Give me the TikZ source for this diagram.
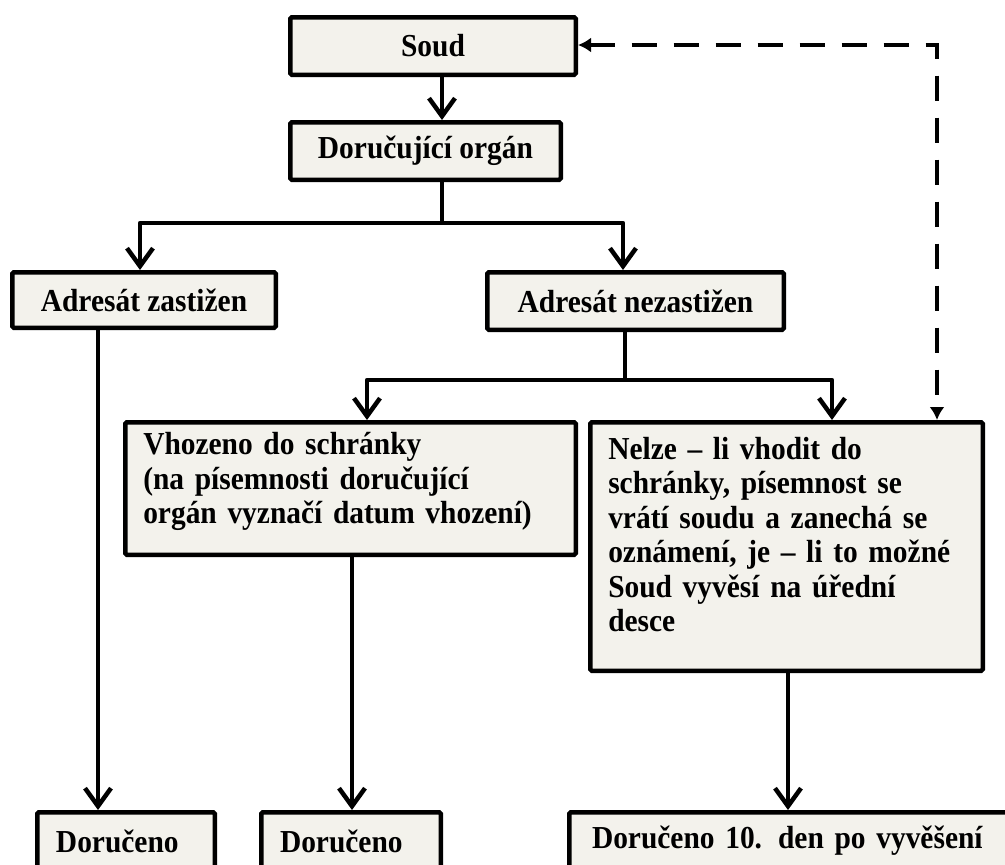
\documentclass[tikz,border=0pt]{standalone}
\usepackage{fontspec}
\setmainfont{Liberation Serif}[FakeStretch=0.92]
\usetikzlibrary{arrows.meta}
\definecolor{boxfill}{RGB}{243,242,236}
\begin{document}
\begin{tikzpicture}[x=1pt,y=-1pt,
  box/.style={draw=black, line width=4.5pt, fill=boxfill, rounded corners=1.5pt,
    inner sep=0pt, font=\bfseries\fontsize{32}{34.5}\selectfont, anchor=north west},
  conn/.style={line width=4.5pt, line join=round,
    -{Straight Barb[length=18pt,width=26pt,line width=4.5pt]}},
  link/.style={line width=4.5pt, line join=round},
  dashlink/.style={line width=4.5pt, dash pattern=on 25pt off 17pt,
    {Latex[length=13pt,width=15pt]}-{Latex[length=13pt,width=15pt]}}
]
\useasboundingbox (0,0) rectangle (1005,865);
\clip (0,0) rectangle (1005,865);

\node[box, minimum width=285.5, minimum height=57.5] (soud) at (288,15) {Soud};
\node[box, minimum width=270.5, minimum height=57.5] (doruc) at (288,120) {Doručující orgán};
\node[box, minimum width=263.5, minimum height=55.5] (az) at (10,270) {Adresát zastižen};
\node[box, minimum width=296.5, minimum height=57.5] (an) at (485,270) {Adresát nezastižen};
\node[box, minimum width=450.5, minimum height=132.5, text width=414.5, align=left] (vh) at (123,420)
  {Vhozeno do schránky\\(na písemnosti doručující\\orgán vyznačí datum vhození)\\[-14pt]\mbox{}};
\node[box, minimum width=392.5, minimum height=248.5, text width=356.5, align=left] (ne) at (588,420)
  {Nelze – li vhodit do\\schránky, písemnost se\\vrátí soudu a zanechá se\\oznámení, je – li to možné\\Soud vyvěsí na úřední\\desce\\[-10pt]\mbox{}};
\node[box, minimum width=177.5, minimum height=57.5, text width=140, align=left] (d1) at (35,810) {Doručeno};
\node[box, minimum width=179.5, minimum height=57.5, text width=142, align=left] (d2) at (259,810) {Doručeno};
\node[box, minimum width=455.5, minimum height=57.5, text width=410, align=left] (d3) at (567,810) {Doručeno 10. den po vyvěšení};

% columns and junctions
\coordinate (xa) at (442,0);
\coordinate (xb) at (140,0);
\coordinate (xc) at (623,0);
\coordinate (xd) at (367,0);
\coordinate (xe) at (832,0);
\coordinate (xf) at (98,0);
\coordinate (xg) at (352,0);
\coordinate (xh) at (788,0);
\coordinate (xi) at (937,0);
\coordinate (xj) at (625,0);
\coordinate (j1) at (442,223);
\coordinate (j2) at (625,380);
\coordinate (dcorner) at (937,45);

\draw[conn] (soud.south -| xa) -- (doruc.north -| xa);
\draw[link] (doruc.south -| xa) -- (j1);
\draw[conn] (j1) -| (az.north -| xb);
\draw[conn] (j1) -| (an.north -| xc);
\draw[link] (an.south -| xj) -- (j2);
\draw[conn] (j2) -| (vh.north -| xd);
\draw[conn] (j2) -| (ne.north -| xe);
\draw[conn] (az.south -| xf) -- (d1.north -| xf);
\draw[conn] (vh.south -| xg) -- (d2.north -| xg);
\draw[conn] (ne.south -| xh) -- (d3.north -| xh);
\draw[dashlink] (soud.east |- dcorner) -- (dcorner) -- (ne.north -| xi);
\end{tikzpicture}
\end{document}
